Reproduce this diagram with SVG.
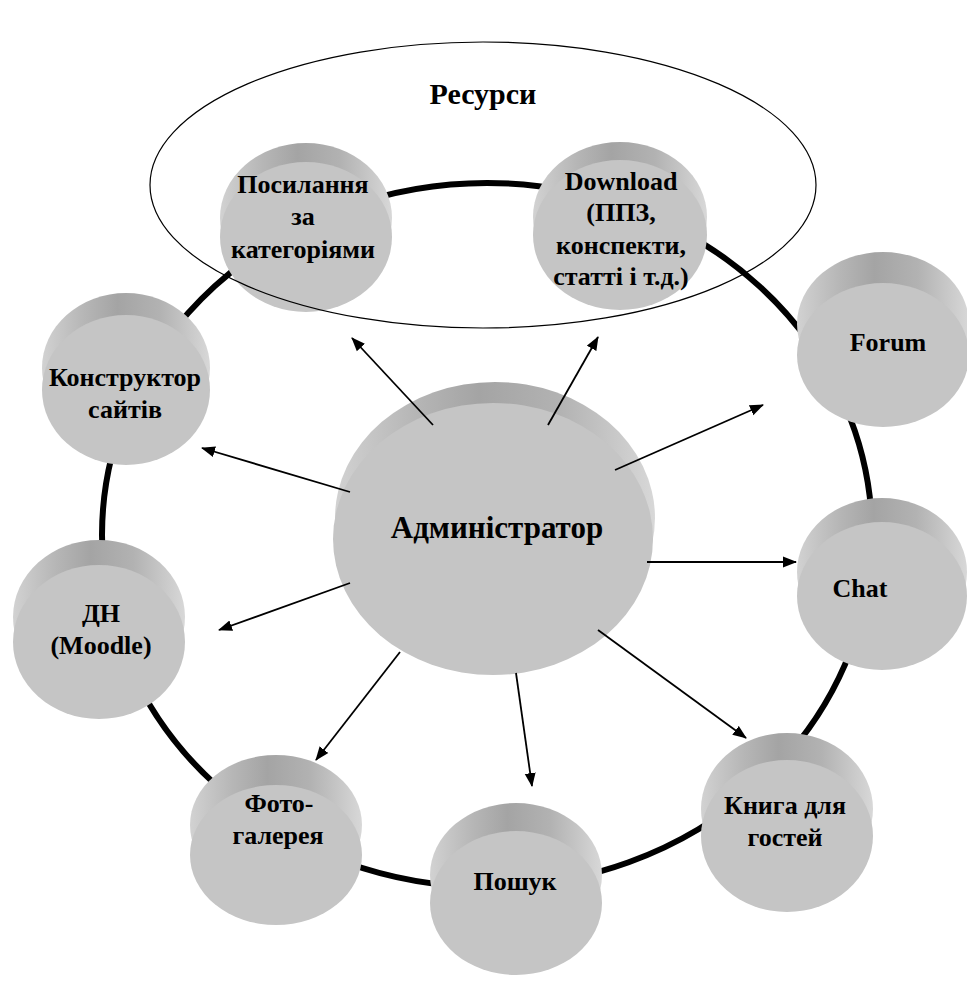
<svg xmlns="http://www.w3.org/2000/svg" width="967" height="982" viewBox="0 0 967 982">
<defs>
<linearGradient id="side" x1="0" y1="0" x2="1" y2="0">
<stop offset="0" stop-color="#d2d2d2"/>
<stop offset="0.25" stop-color="#b6b6b6"/>
<stop offset="0.45" stop-color="#a4a4a4"/>
<stop offset="0.7" stop-color="#b2b2b2"/>
<stop offset="1" stop-color="#d8d8d8"/>
</linearGradient>
<marker id="ah" markerUnits="userSpaceOnUse" markerWidth="14" markerHeight="12" refX="13" refY="6" orient="auto">
<path d="M0,0.5 L14,6 L0,11.5 z" fill="#000"/>
</marker>
<style>
.back{fill:url(#side);}
.front{fill:#c5c5c5;}
.lbl{font-family:"Liberation Serif","Times New Roman",serif;font-weight:bold;font-size:26px;fill:#000;text-anchor:middle;}
.arr{stroke:#000;stroke-width:1.8;fill:none;marker-end:url(#ah);}
</style>
</defs>
<rect width="967" height="982" fill="#fff"/>
<g id="ring">
<ellipse cx="487" cy="535" rx="385" ry="352" fill="none" stroke="#000" stroke-width="6"/>
</g>
<g id="n-posylannia">
<ellipse class="back" cx="306" cy="218" rx="86" ry="75"/>
<ellipse class="front" cx="306" cy="237" rx="86" ry="75"/>
<text class="lbl" x="303" y="193">Посилання</text>
<text class="lbl" x="303" y="225">за</text>
<text class="lbl" x="303" y="258">категоріями</text>
</g>
<g id="n-download">
<ellipse class="back" cx="620" cy="217" rx="87" ry="75"/>
<ellipse class="front" cx="620" cy="235" rx="87" ry="75"/>
<text class="lbl" x="621" y="190">Download</text>
<text class="lbl" x="621" y="221">(ППЗ,</text>
<text class="lbl" x="621" y="254">конспекти,</text>
<text class="lbl" x="621" y="285">статті і т.д.)</text>
</g>
<g id="n-forum">
<ellipse class="back" cx="883" cy="324" rx="86" ry="72"/>
<ellipse class="front" cx="883" cy="355" rx="86" ry="72"/>
<text class="lbl" x="888" y="351">Forum</text>
</g>
<g id="n-konstruktor">
<ellipse class="back" cx="126" cy="368" rx="84" ry="75"/>
<ellipse class="front" cx="126" cy="390" rx="84" ry="75"/>
<text class="lbl" x="125" y="386">Конструктор</text>
<text class="lbl" x="125" y="418">сайтів</text>
</g>
<g id="n-admin">
<ellipse class="back" cx="495" cy="518" rx="160" ry="136"/>
<ellipse class="front" cx="493" cy="539" rx="160" ry="136"/>
<text class="lbl" x="497" y="538" style="font-size:31px">Админістратор</text>
</g>
<g id="n-chat">
<ellipse class="back" cx="882" cy="572" rx="85" ry="74"/>
<ellipse class="front" cx="882" cy="596" rx="85" ry="74"/>
<text class="lbl" x="860" y="597">Chat</text>
</g>
<g id="n-dn">
<ellipse class="back" cx="99" cy="617" rx="86" ry="77"/>
<ellipse class="front" cx="99" cy="642" rx="86" ry="77"/>
<text class="lbl" x="101" y="622">ДН</text>
<text class="lbl" x="101" y="654">(Moodle)</text>
</g>
<g id="n-foto">
<ellipse class="back" cx="276" cy="825" rx="86" ry="70"/>
<ellipse class="front" cx="276" cy="855" rx="86" ry="70"/>
<text class="lbl" x="279" y="812">Фото-</text>
<text class="lbl" x="278" y="844">галерея</text>
</g>
<g id="n-poshuk">
<ellipse class="back" cx="516" cy="875" rx="86" ry="72"/>
<ellipse class="front" cx="516" cy="903" rx="86" ry="72"/>
<text class="lbl" x="515" y="890">Пошук</text>
</g>
<g id="n-knyha">
<ellipse class="back" cx="787" cy="809" rx="86" ry="76"/>
<ellipse class="front" cx="787" cy="836" rx="86" ry="76"/>
<text class="lbl" x="785" y="814">Книга для</text>
<text class="lbl" x="785" y="846">гостей</text>
</g>
<g id="resources">
<ellipse cx="483" cy="185" rx="333" ry="143" fill="none" stroke="#000" stroke-width="1.2"/>
<text class="lbl" x="483" y="104" style="font-size:30px">Ресурси</text>
</g>
<g id="connectors">
<line class="arr" x1="433" y1="425" x2="352" y2="338"/>
<line class="arr" x1="548" y1="425" x2="598" y2="337"/>
<line class="arr" x1="615" y1="470" x2="763" y2="405"/>
<line class="arr" x1="647" y1="562" x2="796" y2="562"/>
<line class="arr" x1="598" y1="630" x2="746" y2="738"/>
<line class="arr" x1="516" y1="673" x2="532" y2="786"/>
<line class="arr" x1="400" y1="652" x2="316" y2="760"/>
<line class="arr" x1="350" y1="583" x2="219" y2="630"/>
<line class="arr" x1="350" y1="492" x2="202" y2="448"/>
</g>
</svg>
